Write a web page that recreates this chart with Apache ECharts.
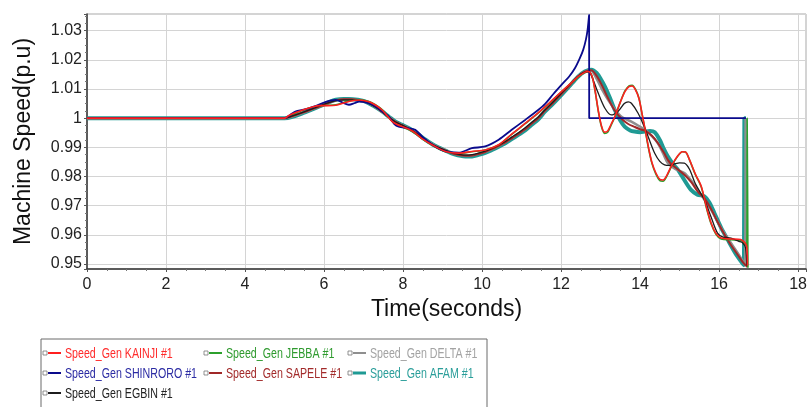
<!DOCTYPE html>
<html>
<head>
<meta charset="utf-8">
<script src="https://cdn.jsdelivr.net/npm/echarts@6/dist/echarts.min.js"></script>
<style>
html,body{margin:0;padding:0;background:#fff;}
#chart{width:810px;height:407px;}
</style>
</head>
<body>
<div id="chart"></div>
<script>
// ---- Data: [time (s), speed (p.u)] ----
const kainji = [[0,1],[5.0,1],[5.1,1.0008],[5.3,1.002],[5.46,1.0028],[5.7,1.0038],[5.88,1.0043],[6.1,1.0043],[6.3,1.0044],[6.5,1.0052],[6.65,1.0058],[6.9,1.0062],[7.14,1.0056],[7.3,1.0045],[7.47,1.0028],[7.6,1.0008],[7.73,0.9988],[7.85,0.9978],[7.98,0.9971],[8.15,0.9962],[8.31,0.9949],[8.5,0.9928],[8.73,0.9909],[9.07,0.9886],[9.41,0.988],[9.74,0.9886],[10.08,0.9891],[10.42,0.9909],[10.75,0.9945],[11.09,0.9982],[11.42,1.0018],[11.7,1.0052],[12.01,1.0091],[12.25,1.012],[12.43,1.0142],[12.6,1.0157],[12.69,1.016],[12.78,1.0145],[12.86,1.0095],[12.94,1.0028],[13.02,0.9975],[13.1,0.9952],[13.18,0.9956],[13.27,0.998],[13.36,1.0005],[13.5,1.0055],[13.62,1.0092],[13.72,1.0108],[13.8,1.011],[13.88,1.0098],[13.97,1.0068],[14.05,1.0015],[14.13,0.996],[14.22,0.9895],[14.3,0.9848],[14.4,0.9812],[14.5,0.979],[14.58,0.9788],[14.68,0.9805],[14.8,0.9838],[14.95,0.987],[15.07,0.9885],[15.15,0.9884],[15.25,0.9858],[15.4,0.9808],[15.55,0.9766],[15.68,0.9695],[15.8,0.964],[15.92,0.9605],[16.05,0.9589],[16.3,0.9586],[16.55,0.9584],[16.66,0.9572],[16.7,0.956],[16.72,0.9495]];
const jebba = [[0,1],[5.0,1],[5.1,1.0006],[5.3,1.0018],[5.46,1.0027],[5.7,1.0037],[5.88,1.0042],[6.1,1.0044],[6.3,1.0046],[6.5,1.0054],[6.65,1.006],[6.9,1.0063],[7.14,1.0057],[7.3,1.0046],[7.47,1.0029],[7.6,1.0009],[7.73,0.9989],[7.85,0.9978],[7.98,0.997],[8.15,0.996],[8.31,0.9947],[8.5,0.9927],[8.73,0.9908],[9.07,0.9885],[9.41,0.9879],[9.74,0.9885],[10.08,0.9891],[10.42,0.9908],[10.75,0.9944],[11.09,0.9981],[11.42,1.0017],[11.7,1.0051],[12.01,1.009],[12.25,1.0119],[12.43,1.0141],[12.6,1.0156],[12.69,1.0159],[12.78,1.0145],[12.86,1.0094],[12.94,1.0026],[13.02,0.9972],[13.1,0.9948],[13.18,0.9952],[13.27,0.9977],[13.36,1.0003],[13.5,1.0055],[13.62,1.0094],[13.72,1.0111],[13.8,1.0113],[13.88,1.01],[13.97,1.0069],[14.05,1.0014],[14.13,0.9958],[14.22,0.9892],[14.3,0.9845],[14.4,0.9808],[14.5,0.9786],[14.58,0.9784],[14.68,0.9802],[14.8,0.9836],[14.95,0.9869],[15.07,0.9885],[15.15,0.9884],[15.25,0.9857],[15.4,0.9806],[15.55,0.9763],[15.68,0.9692],[15.8,0.9637],[15.92,0.9602],[16.05,0.9586],[16.3,0.9583],[16.55,0.9581],[16.66,0.957],[16.7,0.9562],[16.71,1.0],[16.73,0.9487]];
const shinroro = [[0,1],[5.0,1],[5.15,1.0012],[5.29,1.0023],[5.45,1.0028],[5.62,1.0034],[5.8,1.0042],[5.95,1.0051],[6.15,1.006],[6.3,1.0063],[6.45,1.0055],[6.63,1.0046],[6.78,1.0052],[6.89,1.0057],[7.1,1.0052],[7.31,1.004],[7.5,1.002],[7.64,1.0005],[7.78,0.998],[7.89,0.9971],[8.1,0.9966],[8.31,0.996],[8.5,0.9935],[8.75,0.9908],[9.07,0.9886],[9.41,0.9882],[9.74,0.9897],[10.08,0.9903],[10.42,0.9926],[10.75,0.996],[11.09,0.9994],[11.42,1.0028],[11.59,1.0048],[11.8,1.0082],[12.01,1.0114],[12.2,1.0142],[12.35,1.0171],[12.47,1.0204],[12.56,1.0234],[12.63,1.027],[12.67,1.0302],[12.7,1.034],[12.71,1.0354],[12.712,1.0],[16.68,1.0]];
const sapele = [[0,1],[5.0,1],[5.2,1.0007],[5.46,1.0019],[5.7,1.0031],[5.88,1.004],[6.1,1.0052],[6.3,1.0061],[6.5,1.0065],[6.7,1.0065],[6.9,1.0061],[7.1,1.0054],[7.3,1.0039],[7.47,1.0022],[7.65,1.0003],[7.81,0.9987],[7.98,0.9976],[8.14,0.9965],[8.35,0.9947],[8.57,0.9925],[8.8,0.9905],[9.07,0.9889],[9.3,0.9877],[9.58,0.9871],[9.75,0.9872],[9.91,0.9877],[10.08,0.9884],[10.25,0.9894],[10.42,0.9905],[10.59,0.9917],[10.75,0.9931],[10.92,0.9946],[11.09,0.9962],[11.25,0.9981],[11.42,1.0],[11.59,1.0025],[11.8,1.0053],[12.01,1.0083],[12.2,1.011],[12.43,1.0143],[12.6,1.0159],[12.76,1.0164],[12.9,1.0145],[13.05,1.0108],[13.19,1.0068],[13.35,1.0028],[13.53,0.9998],[13.7,0.998],[13.86,0.997],[14.0,0.9962],[14.12,0.9957],[14.3,0.994],[14.45,0.9915],[14.6,0.9882],[14.75,0.9848],[14.95,0.9825],[15.12,0.9806],[15.3,0.978],[15.46,0.9748],[15.63,0.9725],[15.8,0.9688],[15.96,0.9645],[16.13,0.9603],[16.3,0.9565],[16.47,0.9532],[16.62,0.9503],[16.72,0.949]];
const delta = [[0,1],[5.0,1],[5.2,1.0006],[5.46,1.0018],[5.7,1.0031],[5.88,1.004],[6.1,1.0052],[6.3,1.0061],[6.5,1.0065],[6.7,1.0064],[6.9,1.006],[7.1,1.0054],[7.3,1.0039],[7.47,1.0022],[7.65,1.0003],[7.81,0.9987],[7.98,0.9976],[8.14,0.9965],[8.35,0.9947],[8.57,0.9925],[8.8,0.9906],[9.07,0.989],[9.3,0.9878],[9.58,0.9872],[9.75,0.9873],[9.91,0.9878],[10.08,0.9885],[10.25,0.9894],[10.42,0.9905],[10.59,0.9918],[10.75,0.9932],[10.92,0.9947],[11.09,0.9963],[11.25,0.9982],[11.42,1.0001],[11.59,1.0026],[11.8,1.0054],[12.01,1.0084],[12.2,1.0111],[12.43,1.0143],[12.6,1.0159],[12.75,1.0163],[12.9,1.0135],[13.05,1.0095],[13.19,1.0063],[13.35,1.0032],[13.53,1.0005],[13.78,0.9988],[13.95,0.9975],[14.12,0.996],[14.3,0.9938],[14.45,0.9914],[14.58,0.988],[14.7,0.9846],[14.9,0.9825],[15.12,0.9812],[15.3,0.9785],[15.46,0.9754],[15.63,0.972],[15.8,0.9686],[15.96,0.9645],[16.13,0.9606],[16.3,0.9572],[16.47,0.9538],[16.6,0.951],[16.66,0.9497],[16.67,1.0]];
const afam = [[0,1],[5.0,1],[5.2,1.0005],[5.46,1.0017],[5.7,1.003],[5.88,1.004],[6.1,1.0053],[6.3,1.0063],[6.5,1.0066],[6.63,1.0066],[6.85,1.0063],[7.05,1.0057],[7.25,1.0042],[7.47,1.0023],[7.65,1.0004],[7.81,0.9988],[7.98,0.9977],[8.14,0.9966],[8.35,0.9948],[8.57,0.9926],[8.8,0.9906],[9.07,0.9889],[9.3,0.9876],[9.58,0.9869],[9.75,0.9869],[9.91,0.9874],[10.08,0.9881],[10.25,0.9891],[10.42,0.9902],[10.59,0.9914],[10.75,0.9928],[10.92,0.9943],[11.09,0.9958],[11.25,0.9977],[11.42,0.9995],[11.59,1.0022],[11.8,1.005],[12.01,1.008],[12.2,1.0108],[12.43,1.0142],[12.6,1.016],[12.77,1.0166],[12.9,1.0155],[13.0,1.0135],[13.11,1.0108],[13.25,1.0065],[13.36,1.0028],[13.5,0.9992],[13.61,0.9971],[13.75,0.9958],[13.86,0.9954],[14.0,0.9952],[14.12,0.9954],[14.25,0.9956],[14.37,0.9952],[14.5,0.9925],[14.6,0.9895],[14.7,0.9869],[14.85,0.984],[14.96,0.9823],[15.12,0.9788],[15.29,0.9754],[15.45,0.9738],[15.63,0.9732],[15.75,0.9712],[15.88,0.9675],[16.05,0.9625],[16.22,0.9583],[16.4,0.954],[16.55,0.951],[16.63,0.9496],[16.64,1.0],[16.68,1.0]];
const egbin = [[0,1],[5.0,1],[5.2,1.0008],[5.46,1.002],[5.7,1.0032],[5.88,1.0041],[6.1,1.0052],[6.3,1.006],[6.5,1.0063],[6.7,1.0063],[6.9,1.006],[7.1,1.0053],[7.3,1.0038],[7.47,1.0022],[7.65,1.0002],[7.81,0.9987],[7.98,0.9976],[8.14,0.9965],[8.35,0.9947],[8.57,0.9925],[8.8,0.9906],[9.07,0.989],[9.3,0.9879],[9.58,0.9873],[9.75,0.9875],[9.91,0.988],[10.08,0.9887],[10.25,0.9896],[10.42,0.9907],[10.59,0.992],[10.75,0.9935],[10.92,0.995],[11.09,0.9967],[11.25,0.9985],[11.42,1.0004],[11.59,1.0028],[11.8,1.0056],[12.01,1.0086],[12.2,1.0113],[12.43,1.0144],[12.6,1.0158],[12.7,1.016],[12.8,1.0135],[12.94,1.0086],[13.11,1.0034],[13.27,1.0011],[13.44,1.0023],[13.6,1.005],[13.7,1.0056],[13.78,1.0051],[13.95,1.0017],[14.12,0.9966],[14.25,0.992],[14.37,0.988],[14.5,0.9852],[14.62,0.984],[14.75,0.9838],[14.87,0.9843],[15.0,0.9847],[15.12,0.9846],[15.25,0.9825],[15.4,0.9775],[15.63,0.972],[15.8,0.966],[15.96,0.9606],[16.1,0.9592],[16.3,0.9589],[16.5,0.9578],[16.6,0.9572],[16.67,0.9555],[16.7,0.9495]];

const names = ['Speed_Gen KAINJI #1','Speed_Gen JEBBA #1','Speed_Gen DELTA #1','Speed_Gen SHINRORO #1','Speed_Gen SAPELE #1','Speed_Gen AFAM #1','Speed_Gen EGBIN #1'];
const xTicks = {min: 0, max: 18.2, interval: 2};
const yRange = {min: 0.9483, max: 1.0357};

const colors = ['#ff1f1f','#2ca02c','#8f8f8f','#0a0a8c','#a02828','#1f9a94','#1c1c1c'];
const textColors = ['#ff2b2b','#2e9a2e','#a3a3a3','#2b2ba3','#a22a2a','#2a9e9a','#222222'];
const lineWidths = [1.6, 1.6, 2.5, 1.8, 2, 4, 1.3];
const seriesData = [kainji, jebba, delta, shinroro, sapele, afam, egbin];

// legend layout: 3 columns, rows filled left to right
const legendCols = [43, 204, 348];
const legendRows = [353, 373, 393];

const fontMain = "'Liberation Sans', Arial, sans-serif";

function line(i) {
  return {
    name: names[i], type: 'line', data: seriesData[i], showSymbol: false, symbol: 'none',
    smooth: 0.3, lineStyle: {color: colors[i], width: lineWidths[i]}, itemStyle: {color: colors[i]},
    emphasis: {disabled: true}, animation: false
  };
}

const legendGraphics = [{type: 'rect', x: 41, y: 339, shape: {width: 446, height: 72},
  style: {fill: '#fff', stroke: '#6a6a6a', lineWidth: 1}, silent: true, z: 1}];
names.forEach(function (n, i) {
  const cx = legendCols[i % 3], cy = legendRows[Math.floor(i / 3)];
  legendGraphics.push({type: 'rect', x: cx, y: cy - 2, shape: {width: 4, height: 4},
    style: {fill: '#fff', stroke: '#777', lineWidth: 0.8}, silent: true, z: 2});
  const h = lineWidths[i] >= 3 ? 3 : 2;
  legendGraphics.push({type: 'rect', x: cx + 5, y: cy - h / 2, shape: {width: 13, height: h},
    style: {fill: colors[i]}, silent: true, z: 2});
  legendGraphics.push({type: 'text', x: cx + 22, y: cy + 0.5, scaleX: 0.71, originX: 0, originY: 0,
    style: {text: n, fill: textColors[i], fontSize: 15, fontFamily: fontMain,
      align: 'left', verticalAlign: 'middle'}, silent: true, z: 2});
});

const chart = echarts.init(document.getElementById('chart'), null, {renderer: 'canvas'});
chart.setOption({
  animation: false,
  grid: {left: 87, right: 2, top: 14, bottom: 138, show: true, borderColor: '#a8a8a8', borderWidth: 1},
  graphic: legendGraphics,
  legend: {show: false, data: names},
  xAxis: {
    type: 'value', min: xTicks.min, max: xTicks.max, interval: xTicks.interval,
    name: 'Time(seconds)', nameLocation: 'middle', nameGap: 26,
    nameTextStyle: {fontFamily: fontMain, fontSize: 23, color: '#111'},
    axisLine: {show: true, onZero: false, lineStyle: {color: '#333', width: 1.5}},
    axisTick: {show: true, length: 3, lineStyle: {color: '#555'}},
    minorTick: {show: true, splitNumber: 4, length: 2, lineStyle: {color: '#777'}},
    axisLabel: {fontFamily: fontMain, fontSize: 16, color: '#222', margin: 8, showMaxLabel: false},
    splitLine: {show: true, lineStyle: {color: '#d4d4d4', width: 1}}
  },
  yAxis: {
    type: 'value', min: yRange.min, max: yRange.max, splitNumber: 9,
    name: 'Machine Speed(p.u)', nameLocation: 'middle', nameGap: 52,
    nameTextStyle: {fontFamily: fontMain, fontSize: 23, color: '#111'},
    axisLine: {show: true, onZero: false, lineStyle: {color: '#333', width: 1.5}},
    axisTick: {show: true, length: 3, lineStyle: {color: '#555'}},
    minorTick: {show: true, splitNumber: 4, length: 2, lineStyle: {color: '#777'}},
    axisLabel: {fontFamily: fontMain, fontSize: 16, color: '#222', margin: 5,
      showMinLabel: false, showMaxLabel: false,
      formatter: function (v) { return String(+v.toFixed(2)); }},
    splitLine: {show: true, lineStyle: {color: '#d4d4d4', width: 1}}
  },
  // drawing order: thick smooth curves underneath, red on top
  series: [5, 2, 4, 1, 6, 3, 0].map(line)
});
</script>
</body>
</html>
